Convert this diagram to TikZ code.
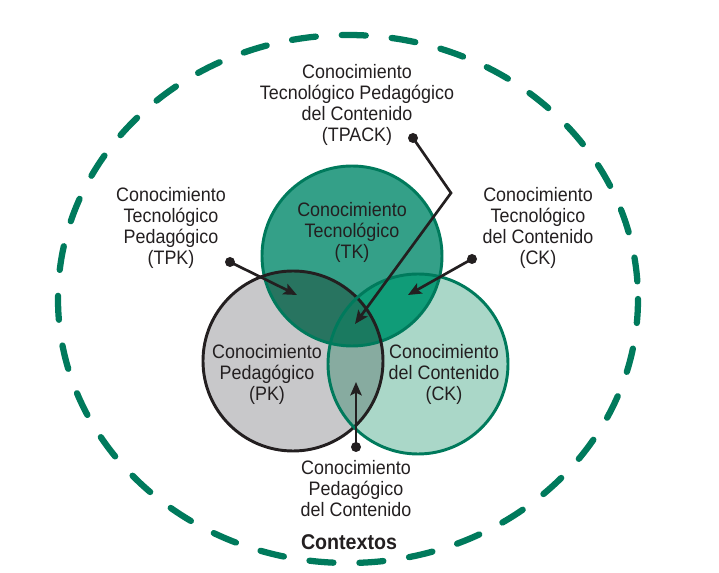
\documentclass[tikz,border=0pt]{standalone}
\usepackage{fontspec}
\setmainfont{Liberation Sans}[FakeStretch=0.92]
\usetikzlibrary{arrows.meta}

\definecolor{ctxgreen}{RGB}{0,122,92}
\definecolor{tkfill}{RGB}{52,160,136}
\definecolor{pkfill}{RGB}{200,200,202}
\definecolor{ckfill}{RGB}{170,215,200}
\definecolor{tkpkfill}{RGB}{40,116,96}
\definecolor{tkckfill}{RGB}{16,156,120}
\definecolor{pkckfill}{RGB}{135,171,160}
\definecolor{allfill}{RGB}{26,122,96}
\definecolor{inktext}{RGB}{35,31,32}

\tikzset{
  lbl/.style={align=center, inner sep=0pt, text=inktext,
    font=\fontsize{14.6}{15.75}\selectfont},
  ctxtitle/.style={inner sep=0pt, text=inktext,
    font=\fontsize{16}{18}\selectfont\bfseries},
  ptr/.style={draw=inktext, line width=2pt, -{Stealth[length=10pt,width=8.5pt,inset=2pt]}},
  enddot/.style={circle, fill=inktext, inner sep=0pt, minimum size=7.5pt},
  ctxring/.style={draw=ctxgreen, line width=4.7pt, line cap=round,
    dash pattern=on 18pt off 19.5pt},
  greenrim/.style={draw=ctxgreen, line width=2.2pt},
  blackrim/.style={draw=inktext, line width=2.2pt},
}

\begin{document}
\begin{tikzpicture}[x=0.75pt,y=0.75pt,yscale=-1,xscale=1]
        \useasboundingbox (0,0) rectangle (719,573);

        % centres of the three circles and of the context ring
        \coordinate (tk) at (352,256);
        \coordinate (pk) at (293,361);
        \coordinate (ck) at (418,364);
        \coordinate (ctx) at (348,299);

        %Shape: Ellipse [contexts]
        \draw [ctxring] (ctx) ellipse (290 and 264);

        %Shape: Circles [fills]
        \fill [pkfill] (pk) circle (90);
        \fill [ckfill] (ck) circle (90);
        \fill [tkfill] (tk) circle (90);
        \begin{scope}
          \clip (pk) circle (90);
          \fill [pkckfill] (ck) circle (90);
          \fill [tkpkfill] (tk) circle (90);
        \end{scope}
        \begin{scope}
          \clip (ck) circle (90);
          \fill [tkckfill] (tk) circle (90);
          \clip (pk) circle (90);
          \fill [allfill] (tk) circle (90);
        \end{scope}

        %Shape: Circles [rims]
        \draw [greenrim] (tk) circle (90);
        \draw [blackrim] (pk) circle (90);
        \draw [greenrim] (ck) circle (90);

        % Text Node
        \node [lbl] (tpack) at (357,105) {Conocimiento\\Tecnológico Pedagógico\\del Contenido\\(TPACK)};
        % Text Node
        \node [lbl] (tpk) at (171,228) {Conocimiento\\Tecnológico\\Pedagógico\\(TPK)};
        % Text Node
        \node [lbl] (tck) at (538,228) {Conocimiento\\Tecnológico\\del Contenido\\(CK)};
        % Text Node
        \node [lbl] (tklbl) at (352,232) {Conocimiento\\Tecnológico\\(TK)};
        % Text Node
        \node [lbl] (pklbl) at (267,374) {Conocimiento\\Pedagógico\\(PK)};
        % Text Node
        \node [lbl] (cklbl) at (444,374) {Conocimiento\\del Contenido\\(CK)};
        % Text Node
        \node [lbl] (pck) at (356,489) {Conocimiento\\Pedagógico\\del Contenido};
        % Text Node
        \node [ctxtitle] (contextos) at (349,542) {Contextos};

        % pointers
        \node [enddot] (tpkdot) at (230,262) {};
        \node [enddot] (tckdot) at (472,259) {};
        \node [enddot] (tpackdot) at (413,138) {};
        \node [enddot] (pckdot) at (356,447) {};
        \coordinate (tpktip) at (297,295);
        \coordinate (tcktip) at (408,295);
        \coordinate (tpackbend) at (451,193);
        \coordinate (tpacktip) at (355,324);
        \coordinate (pcktip) at (356,382);

        \draw [ptr] (tpkdot.center) -- (tpktip);
        \draw [ptr] (tckdot.center) -- (tcktip);
        \draw [ptr] (tpackdot.center) -- (tpackbend) -- (tpacktip);
        \draw [ptr] (pckdot.center) -- (pcktip);

\end{tikzpicture}
\end{document}
